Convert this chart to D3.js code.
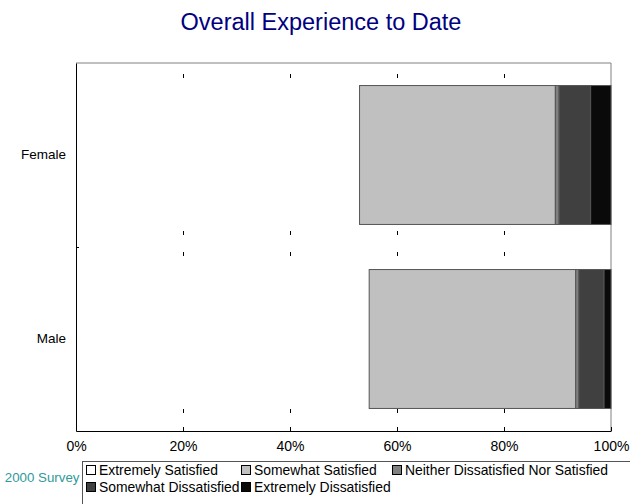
<!DOCTYPE html>
<html>
<head>
<meta charset="utf-8">
<script src="https://cdn.jsdelivr.net/npm/d3@7"></script>
<style>
  html, body { margin: 0; padding: 0; background: #fff; }
  svg { display: block; font-family: Arial, "Liberation Sans", sans-serif; }
</style>
</head>
<body>
<svg id="chart" width="630" height="504"></svg>
<script>
// Survey groups (top to bottom)
const groups = ["Female", "Male"];
// Response categories, stacked left to right
const responses = [
  "Extremely Satisfied",
  "Somewhat Satisfied",
  "Neither Dissatisfied Nor Satisfied",
  "Somewhat Dissatisfied",
  "Extremely Dissatisfied"
];
// Share of respondents (%) per response, one array per group
const femaleValues = [53.0, 36.6, 0.7, 5.9, 3.8];
const maleValues   = [54.8, 38.6, 0.6, 4.7, 1.3];
// Axis tick values (%)
const xTicks = [0, 20, 40, 60, 80, 100];
const fills = ["#ffffff", "#c0c0c0", "#808080", "#404040", "#0a0a0a"];

const svg = d3.select("#chart");
const plot = { left: 76, right: 611, top: 63, bottom: 431 };

const x = d3.scaleLinear().domain([0, 100]).range([plot.left, plot.right]);
const y = d3.scaleBand().domain(groups)
  .range([plot.top, plot.bottom])
  .paddingInner(0.245).paddingOuter(0.1225);
const color = d3.scaleOrdinal().domain(responses).range(fills);

// Build a table for the stack layout
const table = groups.map((g, i) => {
  const vals = i === 0 ? femaleValues : maleValues;
  const row = { group: g };
  responses.forEach((r, j) => row[r] = vals[j]);
  return row;
});
const series = d3.stack().keys(responses)(table);

// Title
svg.append("text")
  .attr("x", 321).attr("y", 30)
  .attr("text-anchor", "middle")
  .attr("fill", "#000080")
  .style("font-size", "23.5px")
  .text("Overall Experience to Date");

// Frame (top and right edges)
svg.append("path")
  .attr("d", `M${plot.left},${plot.top}H${plot.right}V${plot.bottom}`)
  .attr("fill", "none").attr("stroke", "#808080").attr("stroke-width", 1);

// Short dashed gridlines at each tick
svg.append("g").selectAll("line")
  .data(xTicks.slice(1, -1))
  .join("line")
  .attr("x1", d => Math.round(x(d)) + 0.5).attr("x2", d => Math.round(x(d)) + 0.5)
  .attr("y1", plot.top).attr("y2", plot.bottom)
  .attr("stroke", "#000").attr("stroke-width", 1)
  .attr("stroke-dasharray", "4,153,4,17")
  .attr("stroke-dashoffset", -11);

// Stacked bars
svg.append("g").selectAll("g")
  .data(series)
  .join("g")
  .attr("fill", d => color(d.key))
  .selectAll("rect")
  .data(d => d.map(v => Object.assign(v, { key: d.key })))
  .join("rect")
  .attr("x", d => x(d[0]))
  .attr("y", d => y(d.data.group))
  .attr("width", d => x(d[1]) - x(d[0]))
  .attr("height", y.bandwidth())
  .attr("stroke", d => d.key === responses[0] ? "none" : "#555")
  .attr("stroke-width", 1);

// X axis
const xAxis = svg.append("g")
  .attr("transform", `translate(0,${plot.bottom})`)
  .call(d3.axisBottom(x).tickValues(xTicks).tickFormat(d => d + "%").tickSizeInner(-4).tickSizeOuter(0));
xAxis.select(".domain").attr("stroke", "#000");
xAxis.selectAll(".tick text")
  .attr("y", 10).attr("dy", "0.71em")
  .attr("fill", "#000")
  .style("font-size", "14px")
  .style("font-family", "Arial, 'Liberation Sans', sans-serif");

// Y axis
const yAxis = svg.append("g")
  .attr("transform", `translate(${plot.left},0)`)
  .call(d3.axisLeft(y).tickSize(0).tickPadding(10));
yAxis.select(".domain").attr("stroke", "#000");
yAxis.selectAll(".tick text")
  .attr("fill", "#000")
  .style("font-size", "13.5px")
  .style("font-family", "Arial, 'Liberation Sans', sans-serif");
// Divider tick between the groups
svg.append("line")
  .attr("x1", plot.left).attr("x2", plot.left + 3)
  .attr("y1", (plot.top + plot.bottom) / 2 + 0.5).attr("y2", (plot.top + plot.bottom) / 2 + 0.5)
  .attr("stroke", "#000");

// Survey label
svg.append("text")
  .attr("x", 79.5).attr("y", 477).attr("dy", "0.35em")
  .attr("text-anchor", "end")
  .attr("fill", "#2e9a9a")
  .style("font-size", "13.3px")
  .text("2000 Survey");

// Legend
const legend = svg.append("g");
legend.append("rect")
  .attr("x", 82.5).attr("y", 461.5)
  .attr("width", 560).attr("height", 60)
  .attr("fill", "#fff").attr("stroke", "#555");
const legendPos = [
  [86, 470], [241, 470], [392, 470],
  [86, 487], [241, 487]
];
const items = legend.selectAll("g.item")
  .data(responses)
  .join("g").attr("class", "item")
  .attr("transform", (d, i) => `translate(${legendPos[i][0]},${legendPos[i][1]})`);
items.append("rect")
  .attr("x", 0.5).attr("y", -4.5).attr("width", 9).attr("height", 9)
  .attr("fill", d => color(d)).attr("stroke", "#000");
items.append("text")
  .attr("x", 13).attr("dy", "0.36em")
  .attr("fill", "#000")
  .style("font-size", "13.9px")
  .text(d => d);
</script>
</body>
</html>
